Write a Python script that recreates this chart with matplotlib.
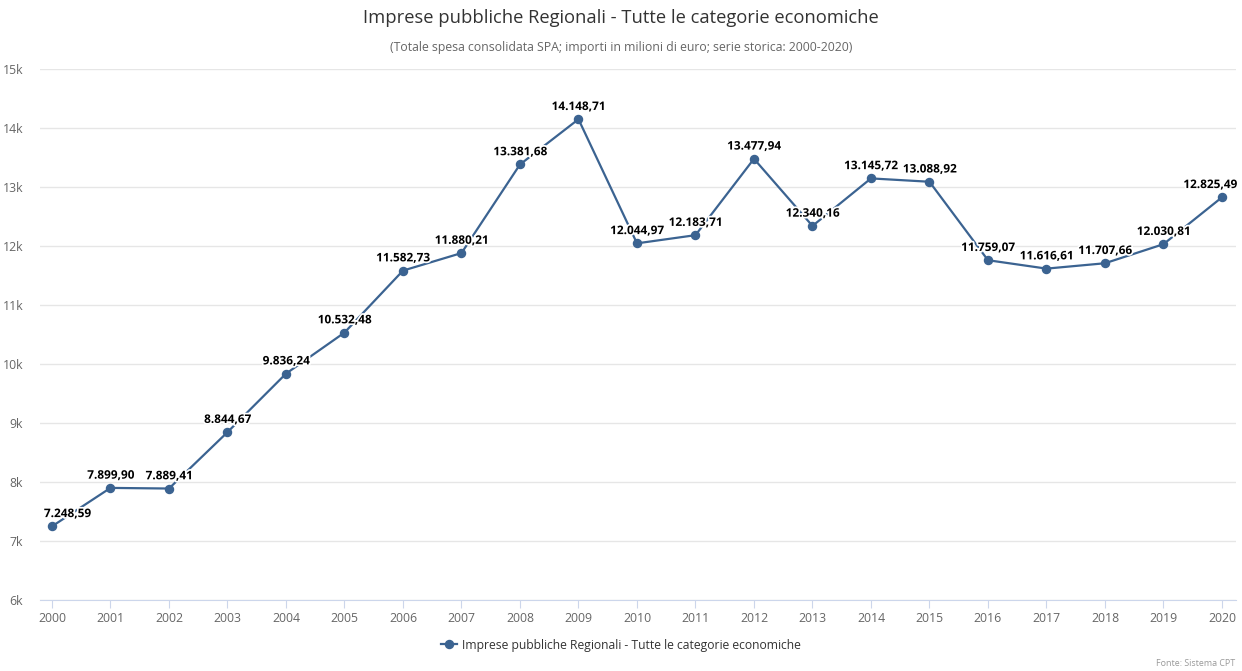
import matplotlib
matplotlib.use("Agg")
import matplotlib.pyplot as plt
import matplotlib.patheffects as pe
from matplotlib.lines import Line2D

plt.rcParams['font.family'] = ['Open Sans', 'DejaVu Sans']

years = [str(y) for y in range(2000, 2021)]
values = [7248.59, 7899.90, 7889.41, 8844.67, 9836.24, 10532.48, 11582.73, 11880.21,
          13381.68, 14148.71, 12044.97, 12183.71, 13477.94, 12340.16, 13145.72,
          13088.92, 11759.07, 11616.61, 11707.66, 12030.81, 12825.49]
yticks = [6000, 7000, 8000, 9000, 10000, 11000, 12000, 13000, 14000, 15000]
ytick_labels = ["6k", "7k", "8k", "9k", "10k", "11k", "12k", "13k", "14k", "15k"]
series_name = "Imprese pubbliche Regionali - Tutte le categorie economiche"
title = "Imprese pubbliche Regionali - Tutte le categorie economiche"
subtitle = "(Totale spesa consolidata SPA; importi in milioni di euro; serie storica: 2000-2020)"
credit = "Fonte: Sistema CPT"

def fmt_it(v):
    s = f"{v:,.2f}"
    return s.replace(",", "X").replace(".", ",").replace("X", ".")

W, H = 1242, 671
fig = plt.figure(figsize=(W / 100, H / 100), dpi=100)
ax = fig.add_axes([40 / W, 1 - 600 / H, (1236 - 40) / W, (600 - 69) / H])

color = '#3b6391'
x = list(range(len(years)))
ax.plot(x, values, color=color, lw=1.6, marker='o', markersize=5.8, zorder=3)

ax.set_ylim(6000, 15000)
ax.set_xlim(-0.205, len(years) - 1 + 0.24)
ax.set_yticks(yticks)
ax.set_yticklabels(ytick_labels)
ax.set_xticks(x)
ax.set_xticklabels(years)
ax.grid(axis='y', color='#e6e6e6', lw=1)
ax.set_axisbelow(True)
for s in ['top', 'right', 'left']:
    ax.spines[s].set_visible(False)
ax.spines['bottom'].set_color('#ccd6eb')
ax.tick_params(axis='y', length=0, pad=12, labelsize=8.8, labelcolor='#666666')
ax.tick_params(axis='x', length=6, color='#ccd6eb', pad=3, labelsize=8.8, labelcolor='#666666')

for i, v in enumerate(values):
    dx, ha = 0, 'center'
    if i == 0:
        dx, ha = -5.8, 'left'
    elif i == len(values) - 1:
        dx, ha = 10.8, 'right'
    ax.annotate(fmt_it(v), (i, v), xytext=(dx, 4.5), textcoords='offset points',
                ha=ha, va='bottom', fontsize=8.5, fontweight='bold', color='#000000',
                path_effects=[pe.withStroke(linewidth=2.5, foreground='white')], zorder=4)

fig.text(0.5, 1 - 18 / H, title, ha='center', va='center', fontsize=13.2, color='#333333')
fig.text(0.5, 1 - 47 / H, subtitle, ha='center', va='center', fontsize=8.8, color='#666666')
fig.text(1235 / W, 1 - 664 / H, credit, ha='right', va='center', fontsize=6.4, color='#999999')

handle = Line2D([], [], color=color, lw=1.6, marker='o', markersize=5.8)
fig.legend([handle], [series_name], loc='center', bbox_to_anchor=(0.5, 1 - 645 / H),
           frameon=False, fontsize=8.7, handlelength=1.3, handletextpad=0.4,
           labelcolor='#333333')

fig.savefig('out.png', dpi=100, facecolor='white')
